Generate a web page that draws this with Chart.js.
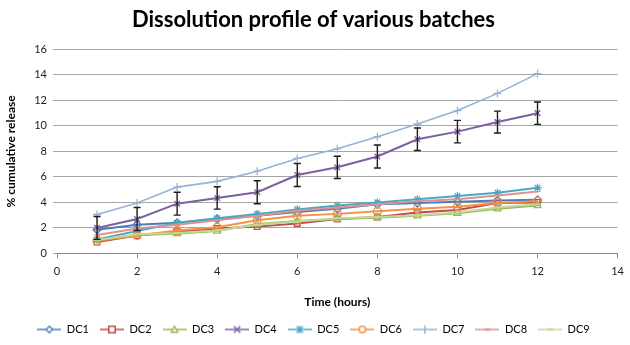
<!DOCTYPE html>
<html>
<head>
<meta charset="utf-8">
<script src="https://cdn.jsdelivr.net/npm/chart.js@4.4.1/dist/chart.umd.min.js"></script>
<style>
  html, body { margin: 0; padding: 0; background: #fff; }
  #wrap { width: 630px; height: 345px; }
</style>
</head>
<body>
<div id="wrap"><canvas id="myChart" width="630" height="345"></canvas></div>
<script>
// time points (hours)
const hours = [1, 2, 3, 4, 5, 6, 7, 8, 9, 10, 11, 12];

// % cumulative release per batch
const dc1 = [1.85, 2.25, 2.4, 2.7, 2.95, 3.25, 3.5, 3.85, 3.95, 4.05, 4.15, 4.2];
const dc2 = [0.9, 1.4, 1.7, 1.95, 2.1, 2.35, 2.7, 2.85, 3.2, 3.4, 3.95, 4.0];
const dc3 = [1.05, 1.45, 1.55, 1.75, 2.3, 2.55, 2.7, 2.8, 2.95, 3.15, 3.5, 3.75];
const dc4 = [2.0, 2.7, 3.9, 4.35, 4.8, 6.15, 6.75, 7.6, 8.95, 9.55, 10.3, 11.0];
const dc5 = [1.1, 1.75, 2.4, 2.75, 3.1, 3.45, 3.75, 4.0, 4.25, 4.5, 4.75, 5.15];
const dc6 = [1.0, 1.4, 1.8, 2.05, 2.6, 2.95, 3.1, 3.3, 3.5, 3.65, 3.95, 4.1];
const dc7 = [3.05, 3.95, 5.2, 5.65, 6.45, 7.45, 8.2, 9.15, 10.15, 11.2, 12.55, 14.1];
const dc8 = [1.45, 1.95, 2.25, 2.6, 2.95, 3.35, 3.6, 3.85, 4.1, 4.25, 4.55, 4.85];
const dc9 = [1.05, 1.5, 1.6, 1.8, 2.25, 2.5, 2.75, 2.85, 3.0, 3.2, 3.6, 3.85];

// error (+/-) on DC4 only
const dc4Err = [0.9, 0.9, 0.9, 0.88, 0.9, 0.9, 0.87, 0.9, 0.88, 0.88, 0.86, 0.88];

const seriesNames = ["DC1", "DC2", "DC3", "DC4", "DC5", "DC6", "DC7", "DC8", "DC9"];
const seriesValues = [dc1, dc2, dc3, dc4, dc5, dc6, dc7, dc8, dc9];
const seriesColors = ["#4a7ebb", "#be4b48", "#98b954", "#7d60a0", "#46aac5", "#f69240", "#95b3d7", "#e0908e", "#c3d69b"];
const seriesMarkers = ["rectRot", "rect", "triangle", "crossRot", "star", "circle", "cross", "line", "line"];

const FONT = "Lato, 'Open Sans', sans-serif";

// small legend picture: line with marker in the middle (Excel style)
function legendPic(color, marker) {
  const c = document.createElement("canvas");
  c.width = 24; c.height = 10;
  const g = c.getContext("2d");
  g.strokeStyle = color;
  g.lineWidth = 1.5;
  g.beginPath(); g.moveTo(0, 5); g.lineTo(24, 5); g.stroke();
  g.fillStyle = "#fff";
  g.beginPath();
  const r = 3.2;
  if (marker === "rectRot") {
    g.moveTo(12, 5 - r); g.lineTo(12 + r, 5); g.lineTo(12, 5 + r); g.lineTo(12 - r, 5); g.closePath();
    g.fill(); g.stroke();
  } else if (marker === "rect") {
    g.rect(12 - r, 5 - r, 2 * r, 2 * r); g.fill(); g.stroke();
  } else if (marker === "triangle") {
    g.moveTo(12, 5 - r); g.lineTo(12 + r, 5 + r - 0.5); g.lineTo(12 - r, 5 + r - 0.5); g.closePath();
    g.fill(); g.stroke();
  } else if (marker === "circle") {
    g.arc(12, 5, r, 0, Math.PI * 2); g.fill(); g.stroke();
  } else if (marker === "crossRot") {
    g.moveTo(12 - r, 5 - r); g.lineTo(12 + r, 5 + r); g.moveTo(12 + r, 5 - r); g.lineTo(12 - r, 5 + r); g.stroke();
  } else if (marker === "star") {
    g.moveTo(12 - r, 5 - r); g.lineTo(12 + r, 5 + r); g.moveTo(12 + r, 5 - r); g.lineTo(12 - r, 5 + r);
    g.moveTo(12, 5 - r - 0.5); g.lineTo(12, 5 + r + 0.5); g.stroke();
  } else if (marker === "cross") {
    g.moveTo(12, 5 - r - 1); g.lineTo(12, 5 + r + 1); g.stroke();
  } else {
    g.lineWidth = 2.5;
    g.moveTo(9, 5); g.lineTo(15, 5); g.stroke();
  }
  return c;
}

const datasets = seriesNames.map((name, i) => ({
  label: name,
  data: hours.map((h, j) => ({ x: h, y: seriesValues[i][j] })),
  borderColor: seriesColors[i],
  backgroundColor: "rgba(255,255,255,0)",
  pointBorderColor: seriesColors[i],
  pointBackgroundColor: "rgba(255,255,255,0)",
  pointStyle: seriesMarkers[i],
  pointRadius: seriesMarkers[i] === "line" ? 3 : 4,
  pointBorderWidth: 1.3,
  borderWidth: name === "DC7" ? 1.6 : 2,
  tension: 0,
  order: 9 - i
}));

// draws the DC4 error bars through the chart's own scales
const errorBars = {
  id: "errorBars",
  afterDatasetsDraw(chart) {
    const { ctx, scales: { x, y } } = chart;
    ctx.save();
    ctx.strokeStyle = "#1a1a1a";
    ctx.lineWidth = 1.4;
    hours.forEach((h, j) => {
      const px = x.getPixelForValue(h);
      const top = y.getPixelForValue(dc4[j] + dc4Err[j]);
      const bot = y.getPixelForValue(dc4[j] - dc4Err[j]);
      ctx.beginPath();
      ctx.moveTo(px, top); ctx.lineTo(px, bot);
      ctx.moveTo(px - 3.5, top); ctx.lineTo(px + 3.5, top);
      ctx.moveTo(px - 3.5, bot); ctx.lineTo(px + 3.5, bot);
      ctx.stroke();
    });
    ctx.restore();
  }
};

let ctx = document.getElementById("myChart").getContext("2d");
let myChart = new Chart(ctx, {
  type: "line",
  data: { datasets: datasets },
  plugins: [errorBars],
  options: {
    responsive: false,
    animation: false,
    layout: { padding: { left: 4, right: 7, top: 0, bottom: 0 } },
    plugins: {
      title: {
        display: true,
        text: "Dissolution profile of various batches",
        color: "#000",
        font: { family: FONT, size: 22, weight: "bold" },
        padding: { top: 7, bottom: 16 }
      },
      legend: {
        position: "bottom",
        labels: {
          usePointStyle: true,
          pointStyleWidth: 24,
          boxHeight: 10,
          padding: 11,
          color: "#222",
          font: { family: FONT, size: 11 },
          generateLabels(chart) {
            return chart.data.datasets.map((ds, i) => ({
              text: ds.label,
              pointStyle: legendPic(seriesColors[i], seriesMarkers[i]),
              fillStyle: "#fff",
              strokeStyle: seriesColors[i],
              lineWidth: 0,
              hidden: false,
              datasetIndex: i
            }));
          }
        }
      },
      tooltip: { enabled: false }
    },
    scales: {
      x: {
        type: "linear",
        min: 0,
        max: 14,
        ticks: { stepSize: 2, color: "#222", font: { family: FONT, size: 11 }, padding: 6 },
        grid: { drawOnChartArea: false, drawTicks: true, tickLength: 5, color: "#8c8c8c" },
        border: { color: "#8c8c8c", width: 1 },
        title: {
          display: true,
          text: "Time (hours)",
          color: "#000",
          font: { family: FONT, size: 12, weight: "bold" },
          padding: { top: 11, bottom: 4 }
        }
      },
      y: {
        min: 0,
        max: 16,
        ticks: { stepSize: 2, color: "#222", font: { family: FONT, size: 11 }, padding: 6 },
        grid: { color: "#a6a6a6", lineWidth: 1, tickLength: 4 },
        border: { display: false },
        title: {
          display: true,
          text: "% cumulative release",
          color: "#000",
          font: { family: FONT, size: 12, weight: "bold" },
          padding: { top: 0, bottom: 8 }
        },
        afterFit(scale) { scale.width = 53; }
      }
    }
  }
});
</script>
</body>
</html>
